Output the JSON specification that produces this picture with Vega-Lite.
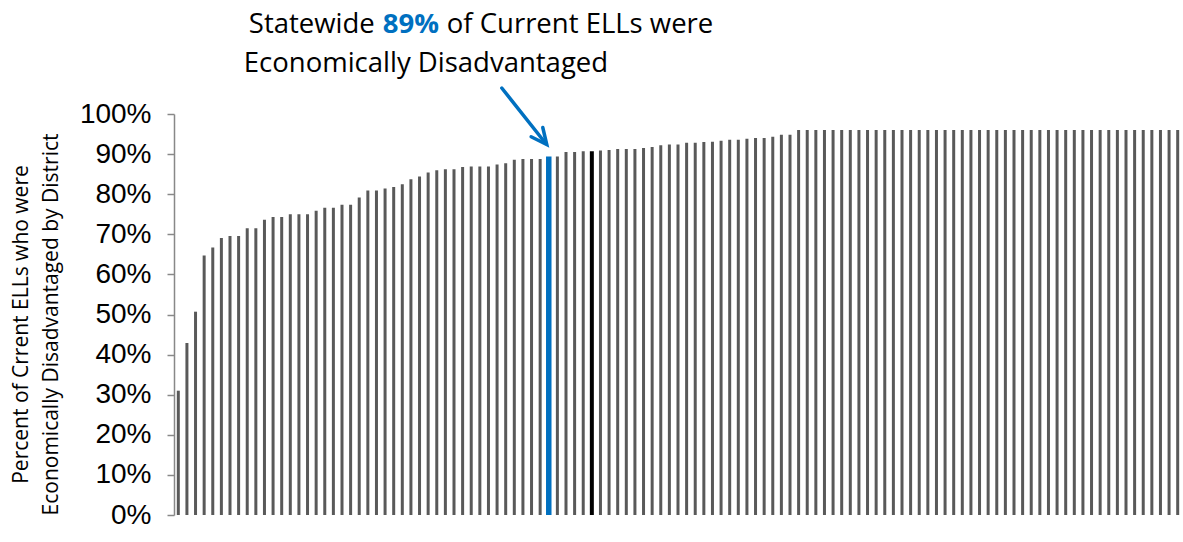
{
  "$schema": "https://vega.github.io/schema/vega-lite/v6.json",
  "width": 1008,
  "height": 401,
  "autosize": "none",
  "padding": {"left": 174, "top": 114, "right": 1, "bottom": 27},
  "background": "white",
  "config": {"view": {"stroke": null}},
  "data": {"values": [
    {"rank":1,"pct":0.310,"group":"District"},
    {"rank":2,"pct":0.429,"group":"District"},
    {"rank":3,"pct":0.507,"group":"District"},
    {"rank":4,"pct":0.647,"group":"District"},
    {"rank":5,"pct":0.667,"group":"District"},
    {"rank":6,"pct":0.691,"group":"District"},
    {"rank":7,"pct":0.696,"group":"District"},
    {"rank":8,"pct":0.696,"group":"District"},
    {"rank":9,"pct":0.715,"group":"District"},
    {"rank":10,"pct":0.715,"group":"District"},
    {"rank":11,"pct":0.736,"group":"District"},
    {"rank":12,"pct":0.743,"group":"District"},
    {"rank":13,"pct":0.743,"group":"District"},
    {"rank":14,"pct":0.750,"group":"District"},
    {"rank":15,"pct":0.750,"group":"District"},
    {"rank":16,"pct":0.750,"group":"District"},
    {"rank":17,"pct":0.759,"group":"District"},
    {"rank":18,"pct":0.766,"group":"District"},
    {"rank":19,"pct":0.766,"group":"District"},
    {"rank":20,"pct":0.774,"group":"District"},
    {"rank":21,"pct":0.774,"group":"District"},
    {"rank":22,"pct":0.792,"group":"District"},
    {"rank":23,"pct":0.809,"group":"District"},
    {"rank":24,"pct":0.809,"group":"District"},
    {"rank":25,"pct":0.814,"group":"District"},
    {"rank":26,"pct":0.818,"group":"District"},
    {"rank":27,"pct":0.825,"group":"District"},
    {"rank":28,"pct":0.837,"group":"District"},
    {"rank":29,"pct":0.844,"group":"District"},
    {"rank":30,"pct":0.854,"group":"District"},
    {"rank":31,"pct":0.860,"group":"District"},
    {"rank":32,"pct":0.862,"group":"District"},
    {"rank":33,"pct":0.862,"group":"District"},
    {"rank":34,"pct":0.868,"group":"District"},
    {"rank":35,"pct":0.869,"group":"District"},
    {"rank":36,"pct":0.869,"group":"District"},
    {"rank":37,"pct":0.869,"group":"District"},
    {"rank":38,"pct":0.874,"group":"District"},
    {"rank":39,"pct":0.877,"group":"District"},
    {"rank":40,"pct":0.886,"group":"District"},
    {"rank":41,"pct":0.888,"group":"District"},
    {"rank":42,"pct":0.888,"group":"District"},
    {"rank":43,"pct":0.888,"group":"District"},
    {"rank":44,"pct":0.894,"group":"Statewide"},
    {"rank":45,"pct":0.894,"group":"District"},
    {"rank":46,"pct":0.905,"group":"District"},
    {"rank":47,"pct":0.905,"group":"District"},
    {"rank":48,"pct":0.907,"group":"District"},
    {"rank":49,"pct":0.907,"group":"Selected District"},
    {"rank":50,"pct":0.909,"group":"District"},
    {"rank":51,"pct":0.910,"group":"District"},
    {"rank":52,"pct":0.913,"group":"District"},
    {"rank":53,"pct":0.913,"group":"District"},
    {"rank":54,"pct":0.913,"group":"District"},
    {"rank":55,"pct":0.915,"group":"District"},
    {"rank":56,"pct":0.918,"group":"District"},
    {"rank":57,"pct":0.922,"group":"District"},
    {"rank":58,"pct":0.924,"group":"District"},
    {"rank":59,"pct":0.924,"group":"District"},
    {"rank":60,"pct":0.928,"group":"District"},
    {"rank":61,"pct":0.928,"group":"District"},
    {"rank":62,"pct":0.930,"group":"District"},
    {"rank":63,"pct":0.931,"group":"District"},
    {"rank":64,"pct":0.933,"group":"District"},
    {"rank":65,"pct":0.936,"group":"District"},
    {"rank":66,"pct":0.936,"group":"District"},
    {"rank":67,"pct":0.938,"group":"District"},
    {"rank":68,"pct":0.940,"group":"District"},
    {"rank":69,"pct":0.940,"group":"District"},
    {"rank":70,"pct":0.943,"group":"District"},
    {"rank":71,"pct":0.948,"group":"District"},
    {"rank":72,"pct":0.948,"group":"District"},
    {"rank":73,"pct":0.960,"group":"District"},
    {"rank":74,"pct":0.960,"group":"District"},
    {"rank":75,"pct":0.960,"group":"District"},
    {"rank":76,"pct":0.960,"group":"District"},
    {"rank":77,"pct":0.960,"group":"District"},
    {"rank":78,"pct":0.960,"group":"District"},
    {"rank":79,"pct":0.960,"group":"District"},
    {"rank":80,"pct":0.960,"group":"District"},
    {"rank":81,"pct":0.960,"group":"District"},
    {"rank":82,"pct":0.960,"group":"District"},
    {"rank":83,"pct":0.960,"group":"District"},
    {"rank":84,"pct":0.960,"group":"District"},
    {"rank":85,"pct":0.960,"group":"District"},
    {"rank":86,"pct":0.960,"group":"District"},
    {"rank":87,"pct":0.960,"group":"District"},
    {"rank":88,"pct":0.960,"group":"District"},
    {"rank":89,"pct":0.960,"group":"District"},
    {"rank":90,"pct":0.960,"group":"District"},
    {"rank":91,"pct":0.960,"group":"District"},
    {"rank":92,"pct":0.960,"group":"District"},
    {"rank":93,"pct":0.960,"group":"District"},
    {"rank":94,"pct":0.960,"group":"District"},
    {"rank":95,"pct":0.960,"group":"District"},
    {"rank":96,"pct":0.960,"group":"District"},
    {"rank":97,"pct":0.960,"group":"District"},
    {"rank":98,"pct":0.960,"group":"District"},
    {"rank":99,"pct":0.960,"group":"District"},
    {"rank":100,"pct":0.960,"group":"District"},
    {"rank":101,"pct":0.960,"group":"District"},
    {"rank":102,"pct":0.960,"group":"District"},
    {"rank":103,"pct":0.960,"group":"District"},
    {"rank":104,"pct":0.960,"group":"District"},
    {"rank":105,"pct":0.960,"group":"District"},
    {"rank":106,"pct":0.960,"group":"District"},
    {"rank":107,"pct":0.960,"group":"District"},
    {"rank":108,"pct":0.960,"group":"District"},
    {"rank":109,"pct":0.960,"group":"District"},
    {"rank":110,"pct":0.960,"group":"District"},
    {"rank":111,"pct":0.960,"group":"District"},
    {"rank":112,"pct":0.960,"group":"District"},
    {"rank":113,"pct":0.960,"group":"District"},
    {"rank":114,"pct":0.960,"group":"District"},
    {"rank":115,"pct":0.960,"group":"District"},
    {"rank":116,"pct":0.960,"group":"District"},
    {"rank":117,"pct":0.960,"group":"District"}
  ]},
  "encoding": {
    "x": {"field": "rank", "type": "quantitative", "scale": {"domain": [0.5, 117.5], "nice": false, "zero": false, "padding": 0}, "axis": null},
    "y": {"field": "pct", "type": "quantitative", "scale": {"domain": [0, 1], "nice": false},
      "axis": {
        "title": ["Percent of Crrent ELLs who were", "Economically Disadvantaged by District"],
        "format": ".0%",
        "values": [0, 0.1, 0.2, 0.3, 0.4, 0.5, 0.6, 0.7, 0.8, 0.9, 1],
        "grid": false,
        "domainColor": "#888888",
        "domainWidth": 1.5,
        "tickColor": "#888888",
        "tickWidth": 1.5,
        "tickSize": 7,
        "labelFont": "Liberation Sans",
        "labelFontSize": 28,
        "labelColor": "#000000",
        "labelPadding": 16,
        "labelFlush": false,
        "titleFont": "Open Sans",
        "titleFontSize": 21,
        "titleFontWeight": "normal",
        "titleColor": "#000000",
        "titleAngle": -90,
        "titleAlign": "center",
        "titleBaseline": "alphabetic",
        "titleLineHeight": 30,
        "titleX": -147,
        "titleY": 210
      }
    }
  },
  "layer": [
    {
      "mark": {"type": "bar"},
      "encoding": {
        "color": {"field": "group", "type": "nominal", "legend": null,
          "scale": {"domain": ["District", "Statewide", "Selected District"], "range": ["#595959", "#0070C0", "#000000"]}},
        "size": {"field": "group", "type": "nominal", "legend": null,
          "scale": {"type": "ordinal", "domain": ["District", "Statewide", "Selected District"], "range": [3, 5.5, 4]}}
      }
    },
    {
      "transform": [{"filter": "datum.group === 'Statewide'"}],
      "mark": {"type": "text", "align": "right", "baseline": "alphabetic", "dx": -174, "dy": -124, "font": "Open Sans", "fontSize": 27.5, "color": "#000000"},
      "encoding": {"text": {"value": "Statewide"}}
    },
    {
      "transform": [{"filter": "datum.group === 'Statewide'"}],
      "mark": {"type": "text", "align": "left", "baseline": "alphabetic", "dx": -166, "dy": -124, "font": "Open Sans", "fontSize": 27.5, "fontWeight": "bold", "color": "#0070C0"},
      "encoding": {"text": {"field": "pct", "format": ".0%"}}
    },
    {
      "transform": [{"filter": "datum.group === 'Statewide'"}],
      "mark": {"type": "text", "align": "left", "baseline": "alphabetic", "dx": -102, "dy": -124, "font": "Open Sans", "fontSize": 27.5, "color": "#000000"},
      "encoding": {"text": {"value": "of Current ELLs were"}}
    },
    {
      "transform": [{"filter": "datum.group === 'Statewide'"}],
      "mark": {"type": "text", "align": "left", "baseline": "alphabetic", "dx": -305, "dy": -85, "font": "Open Sans", "fontSize": 27.5, "color": "#000000"},
      "encoding": {"text": {"value": "Economically Disadvantaged"}}
    },
    {
      "transform": [{"filter": "datum.group === 'Statewide'"}],
      "mark": {"type": "rule", "color": "#0070C0", "strokeWidth": 3.5, "strokeCap": "round", "xOffset": -47, "yOffset": -68.5, "x2Offset": -3, "y2Offset": -13},
      "encoding": {"x2": {"field": "rank"}, "y2": {"field": "pct"}}
    },
    {
      "transform": [{"filter": "datum.group === 'Statewide'"}],
      "mark": {"type": "point", "shape": "M-1,-0.47L0,0L-1,0.47", "filled": false, "color": "#0070C0", "strokeWidth": 3.5, "strokeCap": "round", "strokeJoin": "miter", "size": 1000, "angle": 51.6, "opacity": 1, "xOffset": -2, "yOffset": -12},
      "encoding": {}
    }
  ]
}
